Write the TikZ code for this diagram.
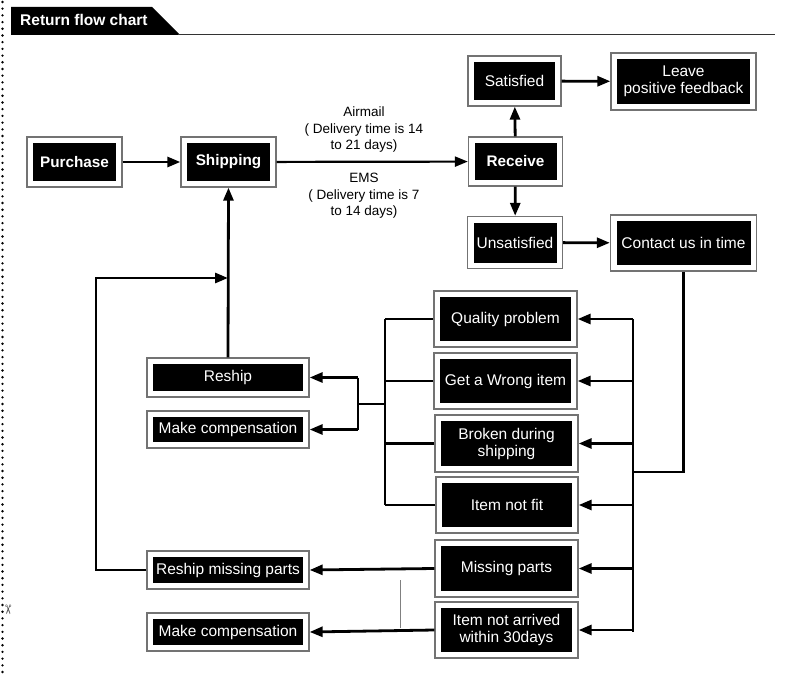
\documentclass[tikz,border=0pt]{standalone}
\usepackage{fontspec}
\setmainfont{Liberation Sans}
\newfontfamily\symfont{DejaVu Sans}
\usetikzlibrary{arrows.meta}
\begin{document}
\begin{tikzpicture}[x=1pt,y=-1pt,
  bx/.style={draw=black!55, line width=1.3pt, fill=white, text=white,
    inner sep=0pt, align=center, font=\fontsize{15.5}{17}\selectfont,
    path picture={\fill[black] ([shift={(6pt,-6pt)}]path picture bounding box.north west)
      rectangle ([shift={(-6pt,6pt)}]path picture bounding box.south east);}},
  bbx/.style={bx, font=\fontsize{15.3}{17}\selectfont\bfseries},
  conn/.style={line width=2.8pt, draw=black},
  arr/.style={conn, -{Triangle[length=13pt,width=10pt]}},
  lbl/.style={align=center, font=\fontsize{13.5}{16.5}\selectfont}]
\useasboundingbox (0,0) rectangle (785,677);
% left dotted cut line
\draw[line width=2.6pt, dash pattern=on 0pt off 6.7pt, line cap=round] (2.5,2) -- (2.5,677);
\node[font=\symfont\fontsize{13}{13}\selectfont, text=black!70, rotate=-90, inner sep=0pt] (scis) at (7.5,610) {✂};
% header
\fill[black] (11,7) -- (152,7) -- (180,35) -- (11,35) -- cycle;
\node[anchor=west, text=white, font=\fontsize{15.5}{17}\selectfont\bfseries, inner sep=0pt] (title) at (20,20) {Return flow chart};
\draw[line width=1.8pt, black!80] (178,34.5) -- (775,34.5);
% boxes
\node[bbx, minimum width=95, minimum height=50] (purchase) at (74.5,162) {Purchase};
\node[bbx, minimum width=95, minimum height=50] (shipping) at (228.5,162) {Shipping};
\node[bbx, minimum width=94, minimum height=49] (receive) at (515.5,161.5) {Receive};
\node[bx, minimum width=93, minimum height=50] (satisfied) at (514.5,81) {Satisfied};
\node[bx, minimum width=145, minimum height=57] (leave) at (683.5,81.5) {Leave\\positive feedback};
\node[bx, minimum width=95, minimum height=52] (unsat) at (515,242.5) {Unsatisfied};
\node[bx, minimum width=146, minimum height=56] (contact) at (683.5,243) {Contact us in time};
\node[bx, minimum width=143, minimum height=56] (quality) at (505.5,319) {Quality problem};
\node[bx, minimum width=143, minimum height=56] (wrong) at (505.5,381) {Get a Wrong item};
\node[bx, minimum width=143, minimum height=57] (broken) at (506.5,443.5) {Broken during\\shipping};
\node[bx, minimum width=142, minimum height=56] (notfit) at (507,505) {Item not fit};
\node[bx, minimum width=143, minimum height=57] (missing) at (506.5,568.5) {Missing parts};
\node[bx, minimum width=143, minimum height=56] (notarr) at (506.5,630) {Item not arrived\\within 30days};
\node[bx, minimum width=162, minimum height=39] (reship) at (228,377.5) {Reship};
\node[bx, minimum width=162, minimum height=37] (comp1) at (228,429.5) {Make compensation};
\node[bx, minimum width=162, minimum height=38] (rmp) at (228,570) {Reship missing parts};
\node[bx, minimum width=162, minimum height=38] (comp2) at (228,632) {Make compensation};
% labels
\node[lbl] (air) at (364,130) {Airmail\\( Delivery time is 14\\to 21 days)};
\node[lbl] (ems) at (364,196) {EMS\\( Delivery time is 7\\to 14 days)};
% main flow
\draw[arr] (purchase) -- (shipping);
\draw[arr, line width=2.2pt] (shipping) -- (receive);
\draw[arr] (receive) -- (satisfied);
\draw[arr] (satisfied) -- (leave);
\draw[arr] (receive) -- (unsat);
\draw[arr] (unsat) -- (contact);
% right bus
\coordinate (rbtop) at (633,319);
\coordinate (rbbot) at (633,632);
\coordinate (rbjoin) at (633,472);
\draw[conn] (contact.south) |- (rbjoin);
\draw[conn] (rbtop) -- (rbbot);
\foreach \n in {quality,wrong,broken,notfit,missing,notarr}
  \draw[arr] (rbtop |- \n.east) -- (\n.east);
% left bus
\coordinate (lbtop) at (385,319);
\coordinate (lbbot) at (385,505);
\coordinate (lbmid) at (385,404);
\coordinate (fork) at (358,404);
\draw[conn] (lbtop) -- (lbbot);
\foreach \n in {quality,wrong,broken,notfit}
  \draw[conn] (\n.west) -- (lbtop |- \n.west);
\draw[conn] (lbmid) -- (fork);
\draw[conn] (fork |- reship.east) -- (fork |- comp1.east);
\draw[arr] (fork |- reship.east) -- (reship.east);
\draw[arr] (fork |- comp1.east) -- (comp1.east);
% reship to shipping
\draw[arr] (reship.north) -- (shipping.south);
% bottom arrows
\draw[arr] (missing.west) -- (rmp.east);
\draw[arr] (notarr.west) -- (comp2.east);
% loop from reship missing parts
\coordinate (lpA) at (96,570);
\coordinate (lpB) at (96,278);
\coordinate (lpC) at (228,278);
\draw[conn] (rmp.west) -- (lpA) -- (lpB) -- (lpB -| 130,0);
\draw[arr] (lpB) -- (lpC);
% thin gray line
\coordinate (gA) at (400,580);
\coordinate (gB) at (400,628);
\draw[black!50, line width=0.8pt] (gA) -- (gB);
\end{tikzpicture}
\end{document}
